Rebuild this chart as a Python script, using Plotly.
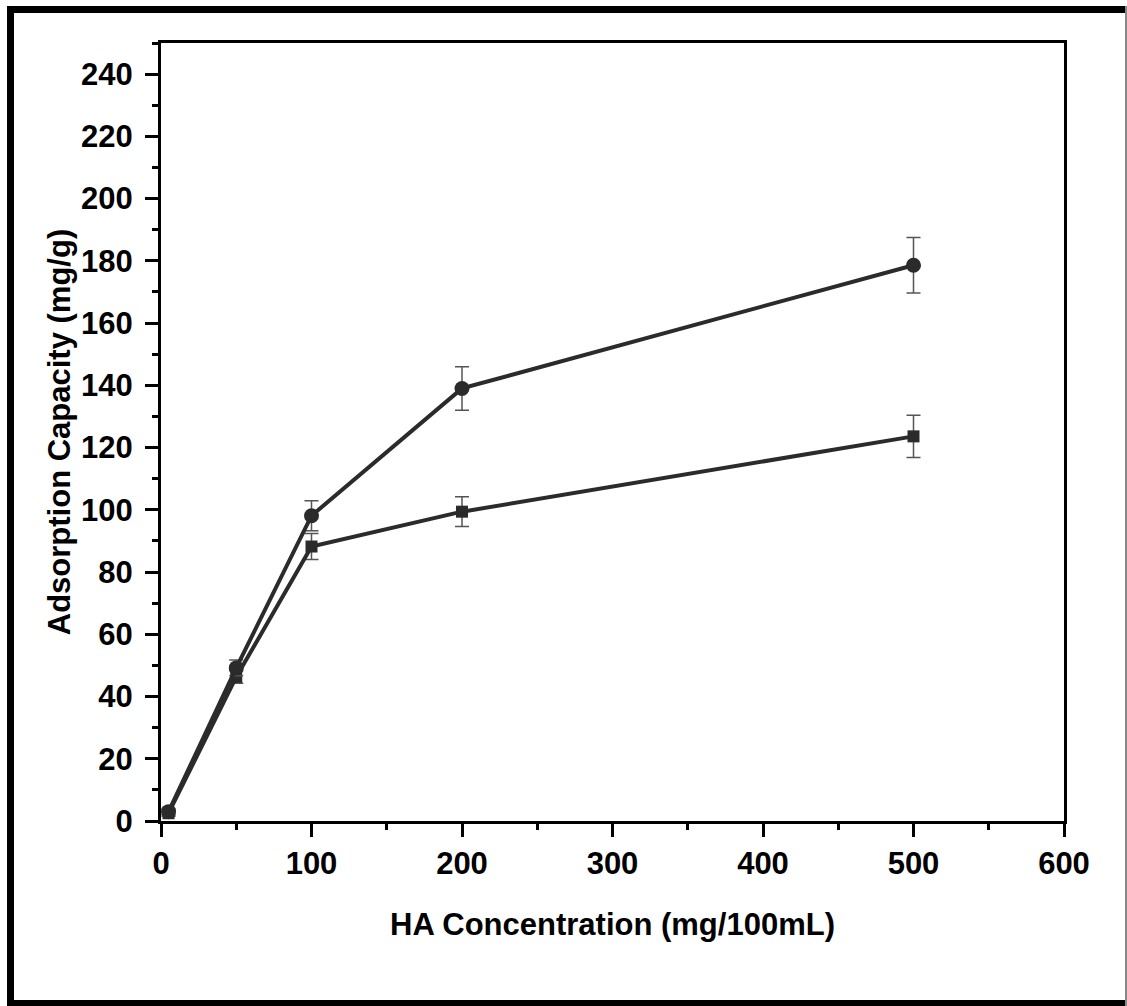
import plotly.graph_objects as go

# Data
conc = [5, 50, 100, 200, 500]
cap_circle = [3.0, 49.2, 98.1, 139.0, 178.6]
err_circle = [1.0, 2.5, 4.8, 7.0, 8.9]
cap_square = [2.5, 46.3, 88.2, 99.4, 123.6]
err_square = [1.0, 2.0, 4.2, 4.8, 6.8]

x_title = "HA Concentration (mg/100mL)"
y_title = "Adsorption Capacity (mg/g)"

W, H = 1127, 1006
L, R, T, B = 161, 63, 43, 185
pw, ph = W - L - R, H - T - B

def px(x):
    return (x - L) / pw

def py(y):
    return (H - B - y) / ph

line_col = "#2b2b2b"
err_col = "#555555"
font_family = "Liberation Sans, Arial, sans-serif"

fig = go.Figure()
fig.add_trace(go.Scatter(
    x=conc, y=cap_square, mode="lines+markers",
    line=dict(color=line_col, width=4),
    marker=dict(symbol="square", size=12, color=line_col),
    error_y=dict(type="data", array=err_square, color=err_col, thickness=1.5, width=7),
    showlegend=False, cliponaxis=False,
))
fig.add_trace(go.Scatter(
    x=conc, y=cap_circle, mode="lines+markers",
    line=dict(color=line_col, width=4),
    marker=dict(symbol="circle", size=15, color=line_col),
    error_y=dict(type="data", array=err_circle, color=err_col, thickness=1.5, width=7),
    showlegend=False, cliponaxis=False,
))

tickfont = dict(family=font_family, size=31, color="black", weight="bold")
titlefont = dict(family=font_family, size=31, color="black", weight="bold")

fig.update_xaxes(
    range=[0, 600], dtick=100, tick0=0,
    showline=True, linewidth=3, linecolor="black", mirror=True,
    ticks="outside", ticklen=13, tickwidth=3, tickcolor="black",
    minor=dict(dtick=50, ticks="outside", ticklen=6, tickwidth=3, tickcolor="black"),
    showgrid=False, zeroline=False,
    tickfont=tickfont, ticklabelstandoff=0,
    title=dict(text=x_title, font=titlefont, standoff=34),
)
fig.update_yaxes(
    range=[0, 250], dtick=20, tick0=0,
    showline=True, linewidth=3, linecolor="black", mirror=True,
    ticks="outside", ticklen=13, tickwidth=3, tickcolor="black",
    minor=dict(dtick=10, ticks="outside", ticklen=6, tickwidth=3, tickcolor="black"),
    showgrid=False, zeroline=False,
    tickfont=tickfont, ticklabelstandoff=6,
    title=dict(text=y_title, font=titlefont, standoff=2),
)

shapes = [
    dict(type="rect", xref="paper", yref="paper", x0=px(7), x1=px(14), y0=py(6), y1=py(1006),
         fillcolor="black", line=dict(width=0), layer="above"),
    dict(type="rect", xref="paper", yref="paper", x0=px(7), x1=px(1127), y0=py(6), y1=py(13),
         fillcolor="black", line=dict(width=0), layer="above"),
    dict(type="rect", xref="paper", yref="paper", x0=px(7), x1=px(1127), y0=py(1000), y1=py(1006),
         fillcolor="black", line=dict(width=0), layer="above"),
    dict(type="rect", xref="paper", yref="paper", x0=px(1125), x1=px(1127), y0=py(6), y1=py(1006),
         fillcolor="#888888", line=dict(width=0), layer="above"),
]

fig.update_layout(
    width=W, height=H,
    margin=dict(l=L, r=R, t=T, b=B, autoexpand=False),
    paper_bgcolor="white", plot_bgcolor="white",
    shapes=shapes,
    font=dict(family=font_family, color="black"),
)

fig.write_html("out.html")
